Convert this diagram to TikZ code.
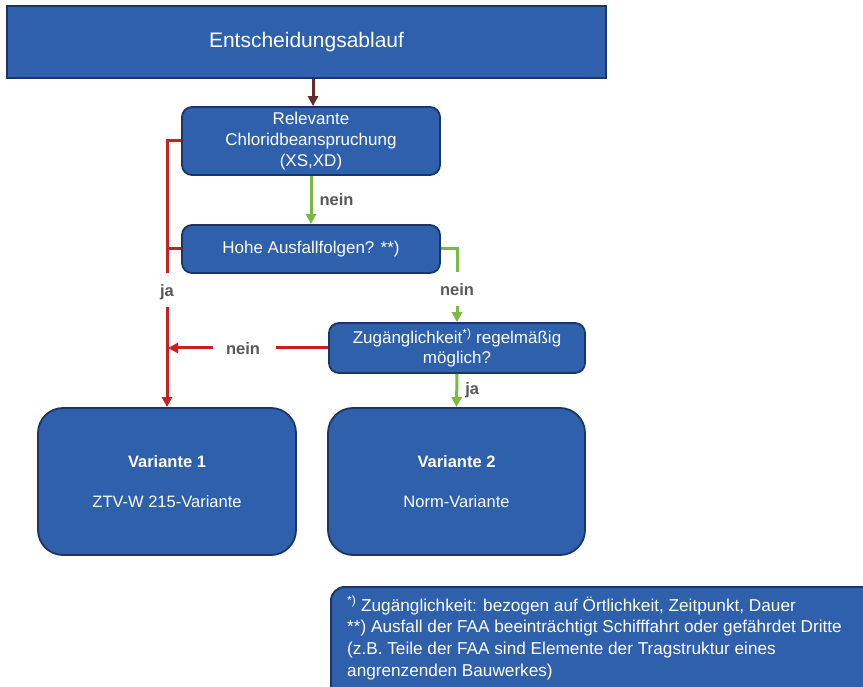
\documentclass[tikz,border=0pt]{standalone}
\usepackage{fontspec}
\setmainfont{Liberation Sans}
\usetikzlibrary{arrows.meta}
\definecolor{boxblue}{RGB}{46,96,172}
\definecolor{boxedge}{RGB}{26,54,102}
\definecolor{lnred}{RGB}{200,32,36}
\definecolor{lngreen}{RGB}{122,186,62}
\definecolor{lnbrown}{RGB}{106,44,38}
\definecolor{lblgray}{RGB}{89,89,89}
\tikzset{
  blk/.style={draw=boxedge, line width=1.8pt, fill=boxblue, text=white, align=center, inner sep=0pt},
  lbl/.style={text=lblgray, font=\fontsize{16.5}{18}\selectfont\bfseries, inner sep=1pt},
  con/.style={line width=3pt},
  arr/.style={con, -{Triangle[width=10pt,length=10pt]}},
}
\begin{document}
\begin{tikzpicture}[x=1pt,y=-1pt]
\useasboundingbox (0,0) rectangle (863,687);
\clip (0,0) rectangle (863,687);
\node[blk, minimum width=599pt, minimum height=72pt, font=\fontsize{21}{24}\selectfont] (top) at (306.5,42) {Entscheidungsablauf};
\node[blk, rounded corners=10pt, minimum width=258pt, minimum height=68pt, font=\fontsize{17}{21}\selectfont] (rel) at (311,141) {Relevante\\Chloridbeanspruchung\\(XS,XD)};
\node[blk, rounded corners=10pt, minimum width=258pt, minimum height=48pt, font=\fontsize{17}{21}\selectfont] (hohe) at (311,249) {Hohe Ausfallfolgen? **)};
\node[blk, rounded corners=10pt, minimum width=256pt, minimum height=50pt, font=\fontsize{17}{19.5}\selectfont] (zug) at (457,348) {Zugänglichkeit\textsuperscript{*)} regelmäßig\\möglich?};
\node[blk, rounded corners=25pt, minimum width=258pt, minimum height=147pt, font=\fontsize{16.5}{18}\selectfont] (v1) at (167,481.5) {\textbf{Variante 1}\\[22pt]ZTV-W 215-Variante};
\node[blk, rounded corners=25pt, minimum width=257pt, minimum height=147pt, font=\fontsize{16.5}{18}\selectfont] (v2) at (456.5,481.5) {\textbf{Variante 2}\\[22pt]Norm-Variante};
\node[blk, rounded corners=14pt, anchor=north west, minimum width=560pt, minimum height=130pt] (foot) at (330,586) {};
\node[anchor=north west, text=white, align=left, inner sep=0pt, font=\fontsize{17.2}{21.8}\selectfont] (foottxt) at (347,596) {\textsuperscript{*)} Zugänglichkeit: bezogen auf Örtlichkeit, Zeitpunkt, Dauer\\**) Ausfall der FAA beeinträchtigt Schifffahrt oder gefährdet Dritte\\(z.B. Teile der FAA sind Elemente der Tragstruktur eines\\angrenzenden Bauwerkes)};
% top -> rel
\draw[arr, lnbrown] (top.south -| 313,0) -- (rel.north -| 313,0);
% rel -> hohe (nein)
\draw[arr, lngreen] (rel.south) -- node[lbl, right=6pt] (l1) {nein} (hohe.north);
% red ja branch
\coordinate (rj) at (167,273);
\coordinate (rj2) at (167,307);
\draw[con, lnred] (rel.west) -| (rj);
\draw[con, lnred] (hohe.west) -- (hohe.west -| rj);
\node[lbl] (l2) at (167,292) {ja};
\draw[arr, lnred] (rj2) -- (v1.north);
% green nein from hohe
\coordinate (gn) at (457,272);
\coordinate (gn2) at (457,306);
\draw[con, lngreen] (hohe.east) -| (gn);
\node[lbl] (l3) at (457,290) {nein};
\draw[arr, lngreen] (gn2) -- (zug.north);
% red nein from zug
\coordinate (rn) at (276,348);
\coordinate (rn2) at (213,348);
\coordinate (rn3) at (168,348);
\draw[con, lnred] (zug.west) -- (rn);
\node[lbl] (l4) at (243,349) {nein};
\draw[arr, lnred] (rn2) -- (rn3);
% zug -> v2 (ja)
\draw[arr, lngreen] (zug.south) -- node[lbl, right=6pt] (l5) {ja} (v2.north);
\end{tikzpicture}
\end{document}
